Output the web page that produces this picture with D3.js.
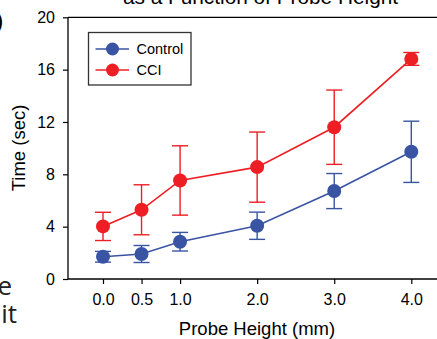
<!DOCTYPE html>
<html>
<head>
<meta charset="utf-8">
<script src="https://cdn.jsdelivr.net/npm/d3@7"></script>
<style>
  body { margin: 0; background: #fff; }
  text { font-family: Arial, "Liberation Sans", sans-serif; }
</style>
</head>
<body>
<div id="chart-area"></div>
<script>
// probe heights (mm) and tick labels
const heights = [0, 0.5, 1, 2, 3, 4];
const xTickLabels = ["0.0", "0.5", "1.0", "2.0", "3.0", "4.0"];
const yTicks = [0, 4, 8, 12, 16, 20];

// time (sec) with error bars
const controlMean = [1.70, 1.91, 2.85, 4.07, 6.72, 9.72];
const controlErr  = [0.41, 0.65, 0.71, 1.04, 1.34, 2.34];
const cciMean = [4.02, 5.29, 7.53, 8.55, 11.60, 16.82];
const cciErr  = [1.08, 1.91, 2.65, 2.68, 2.84, 0.49];

const seriesNames = ["Control", "CCI"];
const seriesColors = ["#3a54a4", "#ed1f24"];

const W = 437, H = 339;
const margin = {top: 17, right: 0, bottom: 60, left: 68};

const svg = d3.select('#chart-area')
  .append('svg')
  .attr('width', W)
  .attr('height', H);

// scales
const x = d3.scaleLinear()
  .domain([0, 4])
  .range([103, 411.3]);

const y = d3.scaleLinear()
  .domain([0, 20])
  .range([279, 17.3]);

// frame: top and bottom lines run to the right edge (cropped)
svg.append('line')
  .attr('x1', margin.left).attr('x2', W)
  .attr('y1', y(20)).attr('y2', y(20))
  .attr('stroke', '#000').attr('stroke-width', 1.3);

// axes
const yAxis = d3.axisLeft(y)
  .tickValues(yTicks)
  .tickSize(5)
  .tickPadding(8);
const gy = svg.append('g')
  .attr('transform', `translate(${margin.left},0)`)
  .call(yAxis);

const xAxis = d3.axisBottom(x)
  .tickValues(heights)
  .tickFormat((d, i) => xTickLabels[i])
  .tickSize(5)
  .tickPadding(10);
const gx = svg.append('g')
  .attr('transform', `translate(0,${y(0)})`)
  .call(xAxis);

gx.select('.domain').attr('d', `M${margin.left},0H${W}`);
gy.select('.domain').attr('d', `M0,${y(20)}V${y(0)}`);

[gx, gy].forEach(g => {
  g.select('.domain').attr('stroke', '#000').attr('stroke-width', 1.3);
  g.selectAll('.tick line').attr('stroke', '#000').attr('stroke-width', 1.2);
  g.selectAll('.tick text')
    .attr('fill', '#000')
    .style('font-size', '16px')
    .style('font-family', 'Arial, "Liberation Sans", sans-serif');
});
gx.selectAll('.tick text').attr('dy', '0.71em');

// axis titles
svg.append('text')
  .attr('x', 257).attr('y', 335)
  .attr('text-anchor', 'middle')
  .style('font-size', '18.5px')
  .text('Probe Height (mm)');

svg.append('text')
  .attr('transform', 'translate(25,148) rotate(-90)')
  .attr('text-anchor', 'middle')
  .style('font-size', '18.5px')
  .text('Time (sec)');

// cropped title at the top
svg.append('text')
  .attr('x', 260.5).attr('y', 3.5)
  .attr('text-anchor', 'middle')
  .style('font-size', '20.8px')
  .text('as a Function of Probe Height');

// cropped fragments at the left edge
svg.append('text')
  .attr('x', 3).attr('y', 28)
  .attr('text-anchor', 'end')
  .style('font-size', '21px')
  .style('font-weight', 'bold')
  .text(')');
svg.append('text')
  .attr('x', 12).attr('y', 295)
  .attr('text-anchor', 'end')
  .style('font-family', '"Open Sans", sans-serif')
  .style('font-size', '26px')
  .attr('fill', '#222')
  .text('e');
svg.append('text')
  .attr('x', 17).attr('y', 323)
  .attr('text-anchor', 'end')
  .style('font-family', '"Open Sans", sans-serif')
  .style('font-size', '26px')
  .attr('fill', '#222')
  .text('it');

// series
const series = [
  {name: seriesNames[0], color: seriesColors[0], mean: controlMean, err: controlErr},
  {name: seriesNames[1], color: seriesColors[1], mean: cciMean, err: cciErr}
];

const line = d3.line()
  .x(d => x(d.h))
  .y(d => y(d.m));

const capW = 8;

series.forEach(s => {
  const pts = heights.map((h, i) => ({h: h, m: s.mean[i], e: s.err[i]}));
  const g = svg.append('g');

  g.append('path')
    .datum(pts)
    .attr('d', line)
    .attr('fill', 'none')
    .attr('stroke', s.color)
    .attr('stroke-width', 1.6);

  const eb = g.selectAll('.eb')
    .data(pts)
    .enter().append('g');

  eb.append('line')
    .attr('x1', d => x(d.h)).attr('x2', d => x(d.h))
    .attr('y1', d => y(d.m + d.e)).attr('y2', d => y(d.m - d.e))
    .attr('stroke', s.color).attr('stroke-width', 1.4);
  eb.append('line')
    .attr('x1', d => x(d.h) - capW).attr('x2', d => x(d.h) + capW)
    .attr('y1', d => y(d.m + d.e)).attr('y2', d => y(d.m + d.e))
    .attr('stroke', s.color).attr('stroke-width', 1.4);
  eb.append('line')
    .attr('x1', d => x(d.h) - capW).attr('x2', d => x(d.h) + capW)
    .attr('y1', d => y(d.m - d.e)).attr('y2', d => y(d.m - d.e))
    .attr('stroke', s.color).attr('stroke-width', 1.4);

  g.selectAll('circle')
    .data(pts)
    .enter().append('circle')
    .attr('cx', d => x(d.h))
    .attr('cy', d => y(d.m))
    .attr('r', 7)
    .attr('fill', s.color);
});

// legend
const legend = svg.append('g').attr('transform', 'translate(88.5,32.5)');
legend.append('rect')
  .attr('width', 102.5).attr('height', 52.5)
  .attr('fill', '#fff')
  .attr('stroke', '#333').attr('stroke-width', 1.3);

series.forEach((s, i) => {
  const row = legend.append('g').attr('transform', `translate(0,${16.5 + i * 21})`);
  row.append('line')
    .attr('x1', 7).attr('x2', 40.5)
    .attr('stroke', s.color).attr('stroke-width', 1.6);
  row.append('circle')
    .attr('cx', 24).attr('r', 6.5)
    .attr('fill', s.color);
  row.append('text')
    .attr('x', 48).attr('dy', '0.36em')
    .style('font-size', '14.5px')
    .text(s.name);
});
</script>
</body>
</html>
